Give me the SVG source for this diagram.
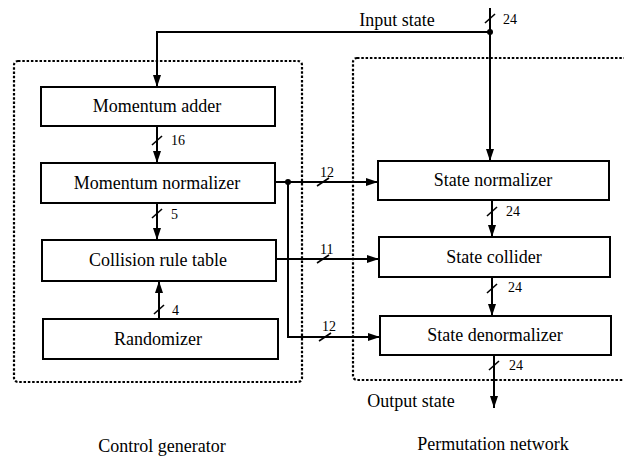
<svg xmlns="http://www.w3.org/2000/svg" width="624" height="460" viewBox="0 0 624 460">
<style>
.box{fill:#fff;stroke:#000;stroke-width:2}
.dot{fill:none;stroke:#000;stroke-width:2.2;stroke-dasharray:2.5 1.8}
.t{font-family:"Liberation Serif","Times New Roman",serif;font-size:18px;fill:#000;text-anchor:middle}
.n{font-family:"Liberation Serif","Times New Roman",serif;font-size:14px;fill:#000}
.c{fill:none;stroke:#000;stroke-width:2}
.s{fill:none;stroke:#000;stroke-width:1.6}
</style>
<defs>
<marker id="ah" viewBox="0 0 12 8" markerWidth="12" markerHeight="8" refX="12" refY="4" orient="auto" markerUnits="userSpaceOnUse">
<path d="M0,0 L12,4 L0,8 z" fill="#000"/>
</marker>
</defs>
<rect class="dot" x="14" y="61" width="288" height="321" rx="4"/>
<rect class="dot" x="353" y="58" width="300" height="322" rx="4"/>
<g id="connectors">
<path class="c" d="M490 8 V32"/>
<path class="c" d="M490 32 H157 V87" marker-end="url(#ah)"/>
<path class="c" d="M490 32 V161" marker-end="url(#ah)"/>
<circle cx="490" cy="32" r="3" fill="#000"/>
<path class="c" d="M157 126 V163" marker-end="url(#ah)"/>
<path class="c" d="M157 203 V240" marker-end="url(#ah)"/>
<path class="c" d="M159 319 V281" marker-end="url(#ah)"/>
<path class="c" d="M275 182 H378" marker-end="url(#ah)"/>
<circle cx="288" cy="182" r="3" fill="#000"/>
<path class="c" d="M288 182 V337 H380" marker-end="url(#ah)"/>
<path class="c" d="M276 259 H379" marker-end="url(#ah)"/>
<path class="c" d="M492 200 V237" marker-end="url(#ah)"/>
<path class="c" d="M492 277 V316" marker-end="url(#ah)"/>
<path class="c" d="M494 355 V408" marker-end="url(#ah)"/>
<g id="buswidths">
<path class="s" d="M485 23 L495 14"/><text class="n" x="503" y="24">24</text>
<path class="s" d="M152 145 L162 136"/><text class="n" x="171" y="145">16</text>
<path class="s" d="M152 218 L162 209"/><text class="n" x="171" y="219">5</text>
<path class="s" d="M154 314 L164 305"/><text class="n" x="172" y="315">4</text>
<path class="s" d="M317 186 L329 178"/><text class="n" x="320" y="177">12</text>
<path class="s" d="M317 263 L329 255"/><text class="n" x="320" y="254">11</text>
<path class="s" d="M319 341 L331 333"/><text class="n" x="322" y="331">12</text>
<path class="s" d="M487 216 L497 207"/><text class="n" x="506" y="216">24</text>
<path class="s" d="M487 293 L497 284"/><text class="n" x="508" y="292">24</text>
<path class="s" d="M489 370 L499 361"/><text class="n" x="509" y="370">24</text>
</g>
</g>
<g id="momentum-adder"><rect class="box" x="41" y="87" width="234" height="39"/><text class="t" x="157" y="112">Momentum adder</text></g>
<g id="momentum-normalizer"><rect class="box" x="41" y="163" width="234" height="40"/><text class="t" x="157" y="189">Momentum normalizer</text></g>
<g id="collision-rule-table"><rect class="box" x="42" y="240" width="234" height="41"/><text class="t" x="158" y="266">Collision rule table</text></g>
<g id="randomizer"><rect class="box" x="43" y="319" width="235" height="40"/><text class="t" x="158" y="345">Randomizer</text></g>
<g id="state-normalizer"><rect class="box" x="378" y="161" width="231" height="39"/><text class="t" x="493" y="186">State normalizer</text></g>
<g id="state-collider"><rect class="box" x="379" y="237" width="231" height="40"/><text class="t" x="494" y="263">State collider</text></g>
<g id="state-denormalizer"><rect class="box" x="380" y="316" width="231" height="39"/><text class="t" x="495" y="341">State denormalizer</text></g>
<g id="labels">
<text class="t" x="397" y="26">Input state</text>
<text class="t" x="411" y="407">Output state</text>
<text class="t" x="162" y="452">Control generator</text>
<text class="t" x="493" y="450">Permutation network</text>
</g>
</svg>
